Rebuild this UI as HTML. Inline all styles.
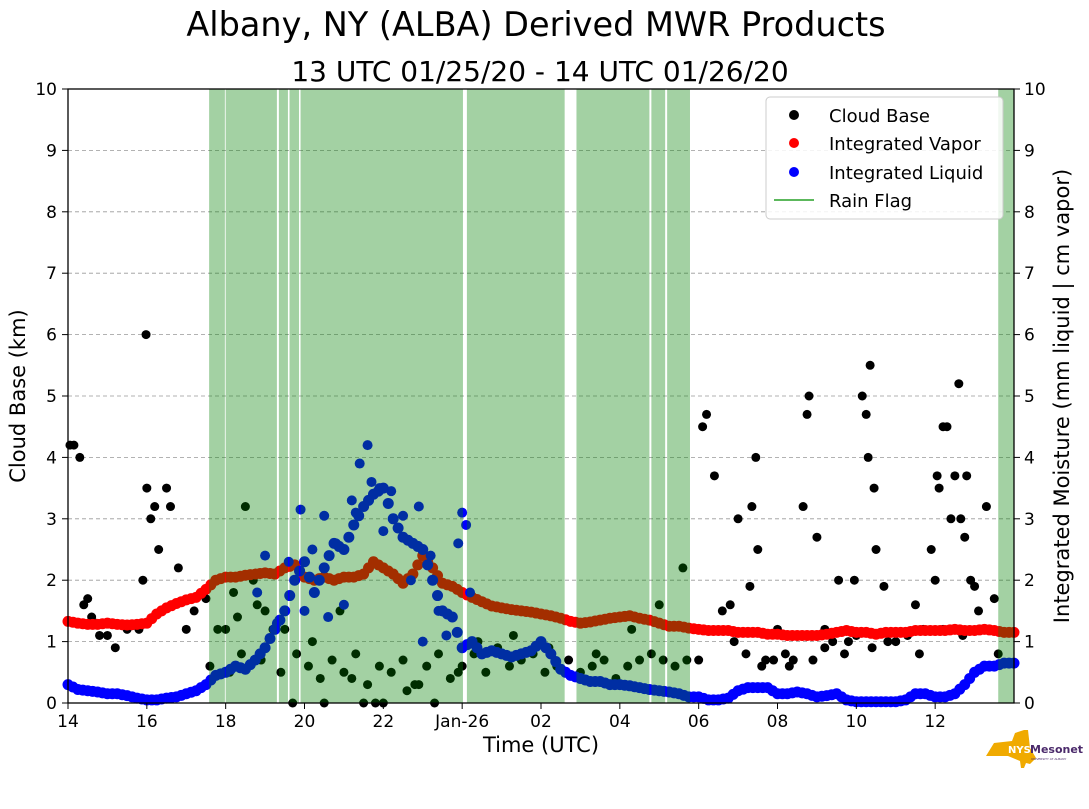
<!DOCTYPE html>
<html><head><meta charset="utf-8"><style>
html,body{margin:0;padding:0;background:#fff;}
svg text{font-family:"DejaVu Sans","Liberation Sans",sans-serif;}
</style></head><body>
<svg id="chart" width="1089" height="804" viewBox="0 0 1089 804" xmlns="http://www.w3.org/2000/svg">
<text x="536" y="36" font-size="33.5" text-anchor="middle">Albany, NY (ALBA) Derived MWR Products</text>
<text x="540" y="81" font-size="28" text-anchor="middle">13 UTC 01/25/20 - 14 UTC 01/26/20</text>
<g id="grid"></g>
<g id="points"></g>
<g id="bands"></g>
<rect x="68" y="89" width="946" height="614" fill="none" stroke="#000" stroke-width="1.3"/>
<g id="axes"></g>
<text x="541" y="752" font-size="21" text-anchor="middle">Time (UTC)</text>
<text transform="translate(25,396) rotate(-90)" font-size="21" text-anchor="middle">Cloud Base (km)</text>
<text transform="translate(1069,396) rotate(-90)" font-size="21" text-anchor="middle">Integrated Moisture (mm liquid | cm vapor)</text>
<g>
<rect x="766" y="97" width="237" height="122" rx="4" fill="#fff" fill-opacity="0.85" stroke="#ccc"/>
<circle cx="794" cy="115" r="5" fill="#000"/><text x="829" y="122" font-size="18">Cloud Base</text>
<circle cx="794" cy="143" r="5" fill="red"/><text x="829" y="150" font-size="18">Integrated Vapor</text>
<circle cx="794" cy="172" r="5" fill="blue"/><text x="829" y="179" font-size="18">Integrated Liquid</text>
<line x1="774" y1="200" x2="814" y2="200" stroke="#5cb85c" stroke-width="2"/><text x="829" y="207" font-size="18">Rain Flag</text>
</g>
<g>
<polygon points="986,756 994,743 1012,741 1015,733 1024,730 1028,730 1030,748 1036,758 1030,764 1026,763 1024,768 1021,768 1020,761 1008,756" fill="#f0aa00"/>
<text x="1008" y="753" font-size="10" font-weight="bold" fill="#fff">NYS</text>
<text x="1030" y="753" font-size="11" font-weight="bold" fill="#4b2a6b">Mesonet</text>
<text x="1031" y="760" font-size="3" fill="#4b2a6b">UNIVERSITY AT ALBANY</text>
</g>
</svg>
<script>
const NS="http://www.w3.org/2000/svg";
const xTickHours=[14,16,18,20,22,24,26,28,30,32,34,36];
const xTickLabels=["14","16","18","20","22","Jan-26","02","04","06","08","10","12"];
const yTicks=[0,1,2,3,4,5,6,7,8,9,10];
const gridLevels=[1,2,3,4,5,6,7,8,9];
const rainStart=[17.58,18.0,19.35,19.62,19.9,24.12,26.9,28.8,29.2,37.6];
const rainEnd=[17.98,19.3,19.58,19.86,24.02,26.6,28.75,29.15,29.78,38.0];
const seriesT0=14, seriesStep=0.25;
const vapor=[1.33,1.30,1.28,1.28,1.30,1.28,1.27,1.28,
1.30,1.45,1.55,1.62,1.68,1.72,1.85,2.00,
2.05,2.05,2.08,2.10,2.12,2.10,2.20,2.25,
2.05,2.00,2.05,2.00,2.05,2.05,2.10,2.30,
2.20,2.10,1.95,2.10,2.40,2.20,1.95,1.90,
1.80,1.72,1.65,1.58,1.55,1.52,1.50,1.48,
1.45,1.42,1.38,1.33,1.30,1.32,1.35,1.38,
1.40,1.42,1.38,1.35,1.30,1.25,1.25,1.22,
1.20,1.18,1.18,1.18,1.15,1.15,1.15,1.12,
1.12,1.10,1.10,1.10,1.10,1.12,1.15,1.18,
1.15,1.15,1.12,1.15,1.15,1.15,1.18,1.18,
1.18,1.18,1.20,1.18,1.18,1.20,1.18,1.15,1.15];
const liquid=[0.30,0.22,0.20,0.18,0.15,0.15,0.12,0.08,
0.05,0.05,0.08,0.10,0.15,0.20,0.30,0.45,
0.50,0.60,0.55,0.70,0.90,1.20,1.50,2.00,
2.30,1.80,2.20,2.60,2.50,2.90,3.20,3.40,
3.50,3.00,2.70,2.60,2.50,2.00,1.50,1.40,
0.90,1.00,0.80,0.85,0.80,0.75,0.80,0.85,
1.00,0.80,0.55,0.45,0.40,0.35,0.35,0.30,
0.30,0.28,0.25,0.22,0.20,0.18,0.15,0.10,
0.10,0.05,0.05,0.08,0.20,0.25,0.25,0.25,
0.15,0.15,0.18,0.15,0.10,0.12,0.15,0.05,
0.02,0.02,0.02,0.02,0.02,0.05,0.15,0.15,
0.10,0.10,0.15,0.30,0.50,0.60,0.60,0.65,0.65];
const liqExtraT=[19.0,19.6,19.9,20.2,20.5,20.8,21.2,21.4,21.6,21.7,21.9,22.2,22.5,22.9,23.2,23.4,23.9,24.0,24.1,19.3,20.0,21.0,22.0,23.0,18.8,20.6,21.3,22.7,23.6,24.2];
const liqExtraV=[2.4,2.3,3.15,2.5,3.05,2.6,3.3,3.9,4.2,3.6,3.5,3.45,3.05,3.2,2.4,1.5,2.6,3.1,2.9,1.3,1.5,1.6,2.8,1.0,1.8,1.4,3.1,2.0,1.1,1.8];
const cbT=[14.05,14.15,14.3,14.4,14.5,14.6,14.7,14.8,15.0,15.2,15.5,15.8,15.9,15.98,16.0,16.1,16.2,16.3,16.5,16.6,16.8,17.0,17.2,17.5,17.8,18.0,18.2,18.5,18.7,19.0,19.2,
17.6,18.1,18.4,18.9,19.4,19.8,20.1,20.4,20.7,21.0,21.3,21.6,21.9,22.2,22.5,22.8,23.1,23.4,23.7,24.0,24.3,24.6,24.9,25.2,25.5,25.8,26.1,26.4,26.7,27.0,27.3,27.6,27.9,28.2,28.5,28.8,29.1,29.4,29.7,
18.3,18.8,19.5,20.2,20.9,21.5,22.0,22.6,23.3,24.4,25.3,26.2,27.4,28.3,29.0,29.6,20.5,21.8,22.9,19.7,21.2,23.9,
30.0,30.1,30.2,30.4,30.6,30.8,31.0,31.3,31.35,31.45,31.5,31.7,32.0,32.2,32.4,32.65,32.75,32.8,33.0,33.2,33.4,33.55,33.8,33.95,34.15,34.25,34.3,34.35,34.45,34.5,34.7,35.0,35.5,35.7,35.9,36.0,36.05,36.1,36.2,36.3,36.4,36.5,36.6,36.65,36.75,36.8,36.9,37.0,37.1,37.3,37.5,
30.9,31.2,31.6,31.9,32.3,32.9,33.2,33.7,34.0,34.4,34.8,35.3,35.6,36.2,36.7,37.2,37.6];
const cbV=[4.2,4.2,4.0,1.6,1.7,1.4,1.3,1.1,1.1,0.9,1.2,1.2,2.0,6.0,3.5,3.0,3.2,2.5,3.5,3.2,2.2,1.2,1.5,1.7,1.2,1.2,1.8,3.2,2.0,1.5,1.2,
0.6,0.5,0.8,0.7,0.5,0.8,0.6,0.4,0.7,0.5,0.8,0.3,0.6,0.5,0.7,0.3,0.6,0.8,0.4,0.6,0.8,0.5,0.9,0.6,0.7,0.8,0.5,0.6,0.7,0.5,0.6,0.7,0.4,0.6,0.7,0.8,0.7,0.6,0.7,
1.4,1.6,1.2,1.0,1.5,0.0,0.0,0.2,0.0,1.0,1.1,0.9,0.8,1.2,1.6,2.2,0.0,0.0,0.3,0.0,0.4,0.5,
0.7,4.5,4.7,3.7,1.5,1.6,3.0,1.9,3.2,4.0,2.5,0.7,1.2,0.8,0.7,3.2,4.7,5.0,2.7,1.2,1.0,2.0,1.0,2.0,5.0,4.7,4.0,5.5,3.5,2.5,1.9,1.0,1.6,1.2,2.5,2.0,3.7,3.5,4.5,4.5,3.0,3.7,5.2,3.0,2.7,3.7,2.0,1.9,1.5,3.2,1.7,
1.0,0.8,0.6,0.7,0.6,0.7,0.9,0.8,1.1,0.9,1.0,1.1,0.8,1.2,1.1,1.2,0.8];
const X=t=>68+(t-14)*(946/24);
const Y=v=>703-v*61.4;
function mk(tag,attrs,parent){const e=document.createElementNS(NS,tag);for(const k in attrs)e.setAttribute(k,attrs[k]);parent.appendChild(e);return e;}
const grid=document.getElementById('grid'),pts=document.getElementById('points'),bands=document.getElementById('bands'),axes=document.getElementById('axes');
gridLevels.forEach(v=>{const l=mk('line',{x1:68,x2:1014,y1:Y(v),y2:Y(v),stroke:'#999','stroke-dasharray':'4,3','stroke-width':0.8},grid);

});
cbT.forEach((t,i)=>{const c=mk('circle',{cx:X(t),cy:Y(cbV[i]),r:4.5,fill:'#000'},pts);

});
vapor.forEach((v,i)=>{const c=mk('circle',{cx:X(seriesT0+i*seriesStep),cy:Y(v),r:5.5,fill:'red'},pts);

});
for(let i=0;i<vapor.length-1;i++){const c=mk('circle',{cx:X(seriesT0+(i+0.5)*seriesStep),cy:Y((vapor[i]+vapor[i+1])/2),r:5.5,fill:'red'},pts);

}
liquid.forEach((v,i)=>{const c=mk('circle',{cx:X(seriesT0+i*seriesStep),cy:Y(v),r:5.5,fill:'blue'},pts);

});
for(let i=0;i<liquid.length-1;i++){const c=mk('circle',{cx:X(seriesT0+(i+0.5)*seriesStep),cy:Y((liquid[i]+liquid[i+1])/2),r:5.5,fill:'blue'},pts);

}
liqExtraT.forEach((t,i)=>{const c=mk('circle',{cx:X(t),cy:Y(liqExtraV[i]),r:5,fill:'blue'},pts);

});
rainStart.forEach((s,i)=>{const r=mk('rect',{x:X(s),y:89,width:X(rainEnd[i])-X(s),height:614,fill:'rgba(0,128,0,0.36)'},bands);

});
xTickHours.forEach((h,i)=>{mk('line',{x1:X(h),x2:X(h),y1:703,y2:709,stroke:'#000'},axes);
const t=mk('text',{x:X(h),y:727,'font-size':17,'text-anchor':'middle'},axes);t.textContent=xTickLabels[i];

});
yTicks.forEach(v=>{mk('line',{x1:62,x2:68,y1:Y(v),y2:Y(v),stroke:'#000'},axes);mk('line',{x1:1014,x2:1020,y1:Y(v),y2:Y(v),stroke:'#000'},axes);
const a=mk('text',{x:57,y:Y(v)+6,'font-size':17,'text-anchor':'end'},axes);a.textContent=v;


const b=mk('text',{x:1024,y:Y(v)+6,'font-size':17},axes);b.textContent=v;

});
</script>
</body></html>
